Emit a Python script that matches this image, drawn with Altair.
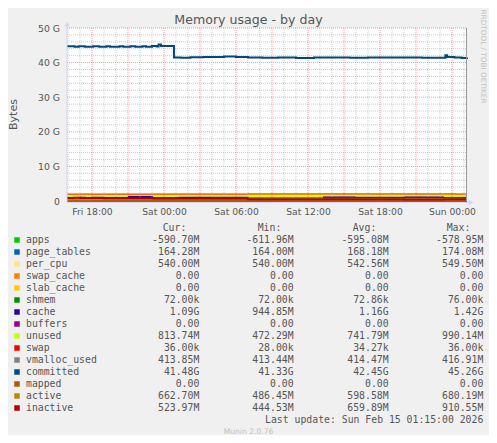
import altair as alt
import pandas as pd

# ---------------- axis / tick definitions (hours since Fri 00:00) ----------------
x_start, x_end = 15.917, 49.25
x_label_hours = [18, 24, 30, 36, 42, 48]
x_labels = ["Fri 18:00", "Sat 00:00", "Sat 06:00", "Sat 12:00", "Sat 18:00", "Sun 00:00"]
y_ticks = [0, 10, 20, 30, 40, 50]
y_labels = ["0\u00a0\u00a0", "10 G", "20 G", "30 G", "40 G", "50 G"]
x_major = [18, 21, 24, 27, 30, 33, 36, 39, 42, 45, 48]
x_minor = [16, 17, 19, 20, 22, 23, 25, 26, 28, 29, 31, 32, 34, 35, 37, 38, 40, 41, 43, 44, 46, 47, 49]
y_major = [10, 20, 30, 40, 50]
y_minor = [2, 4, 6, 8, 12, 14, 16, 18, 22, 24, 26, 28, 32, 34, 36, 38, 42, 44, 46, 48]

# ---------------- stacked series (GB), sampled at t_stack ----------------
t_stack = [15.92, 16.5, 17.0, 17.5, 18.0, 19.0, 21.0, 23.1, 25.2, 28.0, 31.0, 34.0,
           37.25, 40.0, 44.0, 47.33, 48.33, 49.25]
apps = [-0.59, -0.60, -0.58, -0.59, -0.60, -0.59, -0.61, -0.595, -0.59, -0.60, -0.60, -0.595,
        -0.59, -0.59, -0.595, -0.58, -0.59, -0.59]
page_tables = [0.170, 0.172, 0.174, 0.172, 0.170, 0.168, 0.170, 0.168, 0.168, 0.166, 0.166, 0.165,
               0.166, 0.165, 0.165, 0.164, 0.164, 0.164]
per_cpu = [0.5495, 0.548, 0.546, 0.545, 0.545, 0.544, 0.543, 0.542, 0.542, 0.541, 0.541, 0.540,
           0.540, 0.540, 0.540, 0.540, 0.540, 0.540]
swap_cache = [0.0] * 18
slab_cache = [0.0] * 18
shmem = [0.00007] * 18
cache = [1.12, 1.05, 1.15, 1.08, 1.18, 1.12, 1.42, 1.05, 1.15, 1.18, 0.95, 0.97,
         1.25, 1.22, 1.24, 1.00, 1.09, 1.09]
buffers = [0.0] * 18
unused = [0.75, 0.82, 0.72, 0.80, 0.70, 0.76, 0.47, 0.84, 0.74, 0.72, 0.99, 0.97,
          0.68, 0.71, 0.69, 0.93, 0.81, 0.81]
swap = [0.000036] * 18

# ---------------- line series (GB) ----------------
vmalloc_used = [0.414, 0.414, 0.415, 0.414, 0.414, 0.416, 0.417, 0.415, 0.414, 0.414, 0.414, 0.414,
                0.414, 0.414, 0.414, 0.414, 0.414, 0.414]
mapped = [0.0] * 18
active = [0.52, 0.55, 0.50, 0.54, 0.56, 0.58, 0.60, 0.62, 0.60, 0.62, 0.64, 0.65,
          0.66, 0.67, 0.66, 0.68, 0.663, 0.663]
inactive = [0.88, 0.91, 0.85, 0.87, 0.84, 0.80, 0.78, 0.70, 0.75, 0.72, 0.52, 0.50,
            0.52, 0.47, 0.45, 0.50, 0.524, 0.524]
t_comm = [15.92, 16.55, 16.9, 17.4, 18.1, 18.6, 19.2, 19.5, 20.3, 20.6, 21.2, 21.6, 22.2, 22.5,
          23.0, 23.4, 23.55, 23.75, 24.83, 25.4, 26.2, 27.3, 29.0, 30.0, 31.0, 32.2, 33.5, 35.0,
          36.5, 38.0, 39.5, 41.0, 42.5, 44.0, 45.5, 47.45, 47.6, 48.2, 48.8, 49.25]
committed = [44.75, 44.55, 44.7, 44.55, 44.7, 44.6, 44.75, 44.55, 44.7, 44.6, 44.75, 44.55, 44.7, 44.6,
             44.8, 44.65, 45.26, 44.8, 41.45, 41.4, 41.55, 41.65, 41.75, 41.6, 41.5, 41.42, 41.5, 41.36,
             41.5, 41.45, 41.4, 41.5, 41.45, 41.5, 41.42, 42.1, 41.6, 41.5, 41.35, 41.48]

# ---------------- legend table ----------------
legend_names = ["apps", "page_tables", "per_cpu", "swap_cache", "slab_cache", "shmem", "cache",
                "buffers", "unused", "swap", "vmalloc_used", "committed", "mapped", "active", "inactive"]
legend_colors = ["#00CC00", "#0066B3", "#FFE680", "#FF8000", "#FFCC00", "#008F00", "#330099",
                 "#990099", "#CCFF00", "#FF0000", "#808080", "#00487D", "#B35A00", "#B38F00", "#B30000"]
cur_vals = ["-590.70M", "164.28M", "540.00M", "0.00", "0.00", "72.00k", "1.09G", "0.00",
            "813.74M", "36.00k", "413.85M", "41.48G", "0.00", "662.70M", "523.97M"]
min_vals = ["-611.96M", "164.00M", "540.00M", "0.00", "0.00", "72.00k", "944.85M", "0.00",
            "472.29M", "28.00k", "413.44M", "41.33G", "0.00", "486.45M", "444.53M"]
avg_vals = ["-595.08M", "168.18M", "542.56M", "0.00", "0.00", "72.86k", "1.16G", "0.00",
            "741.79M", "34.27k", "414.47M", "42.45G", "0.00", "598.58M", "659.89M"]
max_vals = ["-578.95M", "174.08M", "549.50M", "0.00", "0.00", "76.00k", "1.42G", "0.00",
            "990.14M", "36.00k", "416.91M", "45.26G", "0.00", "680.19M", "910.55M"]

title_text = "Memory usage - by day"
ylabel_text = "Bytes"
side_text = "RRDTOOL / TOBI OETIKER"
update_text = "Last update: Sun Feb 15 01:15:00 2026"
version_text = "Munin 2.0.76"

color_of = dict(zip(legend_names, legend_colors))

# ---------------- build tables ----------------
stack_series = [("apps", apps), ("page_tables", page_tables), ("per_cpu", per_cpu),
                ("swap_cache", swap_cache), ("slab_cache", slab_cache), ("shmem", shmem),
                ("cache", cache), ("buffers", buffers), ("unused", unused), ("swap", swap)]
rows = []
base = [0.0] * len(t_stack)
for name, vals in stack_series:
    for k, t in enumerate(t_stack):
        rows.append({"t": t, "name": name, "lo": base[k], "hi": base[k] + vals[k]})
    base = [b + v for b, v in zip(base, vals)]
stack_df = pd.DataFrame(rows)
top_df = stack_df[stack_df["name"] == "swap"]

line_series = [("vmalloc_used", t_stack, vmalloc_used), ("committed", t_comm, committed),
               ("mapped", t_stack, mapped), ("active", t_stack, active), ("inactive", t_stack, inactive)]

legend_df = pd.DataFrame({"name": legend_names, "color": legend_colors, "cur": cur_vals,
                          "min": min_vals, "avg": avg_vals, "max": max_vals,
                          "i": list(range(len(legend_names)))})

xs = alt.Scale(domain=[x_start, x_end], nice=False, zero=False)
ys = alt.Scale(domain=[0, 50], nice=False, zero=False)
W, H = 400, 173
FONT = "DejaVu Sans"
MONO = "DejaVu Sans Mono"
TXT = "#555555"

label_expr_x = "{" + ",".join(f"'{h}':'{l}'" for h, l in zip(x_label_hours, x_labels)) + "}[datum.value]"
label_expr_y = "{" + ",".join(f"'{v}':'{l}'" for v, l in zip(y_ticks, y_labels)) + "}[datum.value]"

layers = []

# stacked areas
layers.append(
    alt.Chart(stack_df).mark_area(interpolate="step-after", clip=True).encode(
        x=alt.X("t:Q", scale=xs, axis=alt.Axis(values=x_label_hours, labelExpr=label_expr_x, grid=False,
                                                domain=False, ticks=False, tickSize=0, labelPadding=6.5,
                                                labelFont=FONT, labelFontSize=9.2, labelColor=TXT, title=None)),
        y=alt.Y("lo:Q", scale=ys, axis=alt.Axis(values=y_ticks, labelExpr=label_expr_y, grid=False,
                                                 domain=False, ticks=False, tickSize=0, labelPadding=7.5,
                                                 labelFont=FONT, labelFontSize=9.3, labelColor=TXT, title=None)),
        y2="hi:Q",
        color=alt.Color("name:N", scale=alt.Scale(domain=legend_names, range=legend_colors), legend=None),
        detail="name:N",
    )
)
# red top edge of swap
layers.append(
    alt.Chart(top_df).mark_line(interpolate="step-after", color="#FF0000", strokeWidth=1).encode(
        x=alt.X("t:Q", scale=xs, axis=None), y=alt.Y("hi:Q", scale=ys, axis=None))
)

# grid
one = pd.DataFrame({"k": [0]})
layers.append(alt.Chart(pd.DataFrame({"v": x_minor})).mark_rule(color="#A8A8A8", opacity=0.6, strokeDash=[1, 1], strokeWidth=1).encode(
    x=alt.X("v:Q", scale=xs, axis=None), y=alt.value(0), y2=alt.value(H)))
layers.append(alt.Chart(pd.DataFrame({"v": y_minor})).mark_rule(color="#A8A8A8", opacity=0.6, strokeDash=[1, 1], strokeWidth=1).encode(
    y=alt.Y("v:Q", scale=ys, axis=None), x=alt.value(0), x2=alt.value(W)))
layers.append(alt.Chart(pd.DataFrame({"v": x_major})).mark_rule(color="#FF0000", opacity=0.4, strokeDash=[1, 1], strokeWidth=1).encode(
    x=alt.X("v:Q", scale=xs, axis=None), y=alt.value(0), y2=alt.value(H)))
layers.append(alt.Chart(pd.DataFrame({"v": y_major})).mark_rule(color="#FF0000", opacity=0.4, strokeDash=[1, 1], strokeWidth=1).encode(
    y=alt.Y("v:Q", scale=ys, axis=None), x=alt.value(0), x2=alt.value(W)))

# lines
for name, tt, vals in line_series:
    df = pd.DataFrame({"t": tt, "v": vals})
    layers.append(alt.Chart(df).mark_line(interpolate="step-after", color=color_of[name], strokeWidth=2).encode(
        x=alt.X("t:Q", scale=xs, axis=None), y=alt.Y("v:Q", scale=ys, axis=None)))

# axes lines, arrows, right border
AX = "#CFD6F8"
layers.append(alt.Chart(one).mark_rule(color=AX, strokeWidth=1).encode(
    x=alt.value(0), y=alt.value(-4), y2=alt.value(H + 1)))
layers.append(alt.Chart(one).mark_rule(color=AX, strokeWidth=1).encode(
    x=alt.value(0), x2=alt.value(403), y=alt.value(H + 1.5)))
layers.append(alt.Chart(one).mark_point(shape="triangle-up", filled=True, color=AX, size=28, opacity=1).encode(
    x=alt.value(0), y=alt.value(-4)))
layers.append(alt.Chart(one).mark_point(shape="triangle-right", filled=True, color=AX, size=28, opacity=1).encode(
    x=alt.value(404), y=alt.value(H + 1.5)))
layers.append(alt.Chart(one).mark_rule(color="#999999", strokeWidth=1).encode(
    x=alt.value(W - 0.5), y=alt.value(0), y2=alt.value(H)))

# titles
layers.append(alt.Chart(one).mark_text(text=title_text, font=FONT, fontSize=12.6, color=TXT,
                                       align="center", baseline="alphabetic").encode(
    x=alt.value(181.5), y=alt.value(-4.5)))
layers.append(alt.Chart(one).mark_text(text=ylabel_text, font=FONT, fontSize=11, color=TXT,
                                       align="center", baseline="middle", angle=270).encode(
    x=alt.value(-53.3), y=alt.value(86.5)))
layers.append(alt.Chart(one).mark_text(text=side_text, font=FONT, fontSize=7.3, color="#C4C4C4",
                                       align="center", baseline="middle", angle=90).encode(
    x=alt.value(415.8), y=alt.value(28.5)))

# legend header
for txt, px in zip(["Cur:", "Min:", "Avg:", "Max:"], [119.3, 214.3, 309.3, 403.3]):
    layers.append(alt.Chart(one).mark_text(text=txt, font=MONO, fontSize=9.8, color=TXT,
                                           align="right", baseline="middle").encode(
        x=alt.value(px), y=alt.value(200)))

# legend rows
leg = alt.Chart(legend_df).transform_calculate(py="212 + datum.i * 12")
layers.append(leg.mark_square(size=30, opacity=1).encode(
    x=alt.value(-50), y=alt.Y("py:Q", scale=None), color=alt.Color("color:N", scale=None)))
layers.append(leg.mark_text(font=MONO, fontSize=9.8, color=TXT, align="left", baseline="middle").encode(
    x=alt.value(-41), y=alt.Y("py:Q", scale=None), text="name:N"))
for col, px in [("cur", 132.3), ("min", 226.6), ("avg", 321.6), ("max", 416.3)]:
    layers.append(leg.mark_text(font=MONO, fontSize=9.8, color=TXT, align="right", baseline="middle").encode(
        x=alt.value(px), y=alt.Y("py:Q", scale=None), text=f"{col}:N"))

layers.append(alt.Chart(one).mark_text(text=update_text, font=MONO, fontSize=9.8, color=TXT,
                                       align="right", baseline="middle").encode(
    x=alt.value(416.3), y=alt.value(391.5)))
layers.append(alt.Chart(one).mark_text(text=version_text, font=FONT, fontSize=7.6, color="#C0C0C0",
                                       align="center", baseline="middle").encode(
    x=alt.value(181.5), y=alt.value(404.3)))

chart = alt.layer(*layers).properties(
    width=W, height=H,
    padding={"left": 59, "top": 20, "right": 22, "bottom": 234},
    autosize=alt.AutoSizeParams(type="none"),
    background="#F0F0F0",
).resolve_scale(x="independent", y="independent", color="independent").configure_view(fill="white", stroke=None)

chart.save("out.html", embed_options={"renderer": "svg", "actions": False})
